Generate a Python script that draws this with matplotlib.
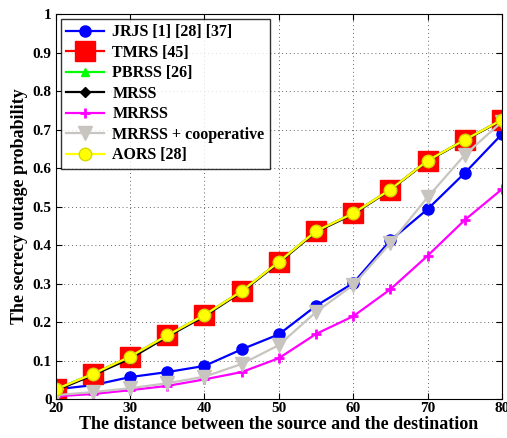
import matplotlib.pyplot as plt
import numpy as np

# distance between source and destination
distance = [20, 25, 30, 35, 40, 45, 50, 55, 60, 65, 70, 75, 80]

# secrecy outage probability per scheme
jrjs = [0.025, 0.036, 0.057, 0.070, 0.086, 0.129, 0.168, 0.242, 0.301, 0.412, 0.493, 0.587, 0.688]
tmrs = [0.025, 0.065, 0.110, 0.165, 0.218, 0.280, 0.356, 0.436, 0.482, 0.544, 0.619, 0.673, 0.725]
pbrss = [0.025, 0.065, 0.110, 0.165, 0.218, 0.280, 0.356, 0.436, 0.482, 0.544, 0.619, 0.673, 0.725]
mrss = [0.022, 0.062, 0.105, 0.162, 0.215, 0.278, 0.354, 0.434, 0.480, 0.543, 0.618, 0.672, 0.724]
mrrss = [0.007, 0.013, 0.023, 0.034, 0.051, 0.070, 0.106, 0.169, 0.215, 0.285, 0.372, 0.465, 0.545]
mrrss_coop = [0.010, 0.018, 0.028, 0.041, 0.058, 0.091, 0.140, 0.226, 0.296, 0.405, 0.524, 0.634, 0.720]
aors = [0.025, 0.065, 0.110, 0.165, 0.218, 0.280, 0.356, 0.436, 0.482, 0.544, 0.619, 0.673, 0.725]

labels = ['JRJS [1] [28] [37]', 'TMRS [45]', 'PBRSS [26]', 'MRSS', 'MRRSS',
          'MRRSS + cooperative', 'AORS [28]']

plt.rcParams['font.family'] = ['Liberation Serif', 'DejaVu Serif']
plt.rcParams['font.weight'] = 'bold'

fig = plt.figure(figsize=(5.07, 4.38), dpi=100)
ax = fig.add_axes([0.110, 0.089, 0.880, 0.879])

ax.plot(distance, jrjs, color='blue', marker='o', markersize=8, linewidth=1.6, label=labels[0])
ax.plot(distance, tmrs, color='red', marker='s', markersize=14, linewidth=1.6, label=labels[1])
ax.plot(distance, pbrss, color='#00ff00', marker='^', markersize=6, linewidth=1.6, label=labels[2])
ax.plot(distance, mrss, color='black', marker='D', markersize=5, linewidth=1.6, label=labels[3])
ax.plot(distance, mrrss, color='magenta', marker='+', markersize=7, markeredgewidth=2,
        linewidth=1.6, label=labels[4])
ax.plot(distance, mrrss_coop, color='#c8c4c0', marker='v', markersize=10, linewidth=1.6, label=labels[5])
ax.plot(distance, aors, color='yellow', marker='o', markersize=9, markeredgecolor='#d8d800',
        linewidth=1.6, label=labels[6])

ax.set_xlim(20, 80)
ax.set_ylim(0, 1)
ax.set_xticks(np.arange(20, 81, 10))
ax.set_yticks(np.arange(0, 1.01, 0.1))
ax.set_yticklabels(['0', '0.1', '0.2', '0.3', '0.4', '0.5', '0.6', '0.7', '0.8', '0.9', '1'])
ax.tick_params(direction='in', top=True, right=True, labelsize=11, length=4, pad=3)
ax.tick_params(axis='x', pad=2)
ax.grid(True, linestyle=(0, (1, 3)), color='#666666', linewidth=0.7)

ax.set_xlabel('The distance between the source and the destination', fontsize=13,
              fontweight='bold', labelpad=1)
ax.set_ylabel('The secrecy outage probability', fontsize=13, fontweight='bold', labelpad=3)

leg = ax.legend(loc='upper left', fontsize=11.5, frameon=True, fancybox=False, edgecolor='black',
                handlelength=2.4, borderaxespad=0.3, labelspacing=0.28, borderpad=0.35,
                handletextpad=0.5)
leg.get_frame().set_linewidth(1.0)

plt.savefig('out.png', dpi=100)
